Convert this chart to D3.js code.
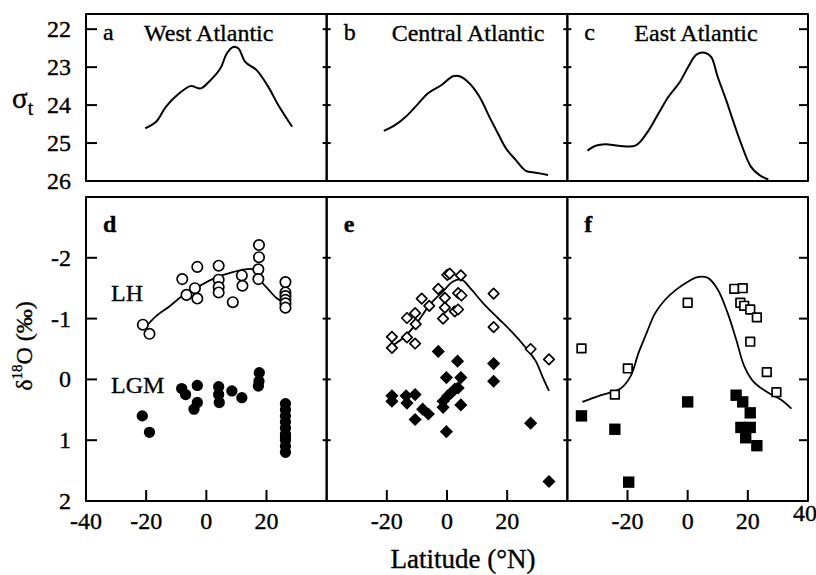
<!DOCTYPE html>
<meta charset="utf-8">
<script src="https://d3js.org/d3.v7.min.js"></script>
<body style="margin:0;background:#fff">
<div id="chart"></div>
</body>
<script>
    // ---- data ----
    var latTicks = [-40, -20, 0, 20, 40]
    var sigmaTicks = [22, 23, 24, 25, 26]
    var d18Ticks = [-2, -1, 0, 1, 2]
    var panelNames = ["West Atlantic", "Central Atlantic", "East Atlantic"]
    var topLetters = ["a", "b", "c"]
    var lowLetters = ["d", "e", "f"]

    // sigma-t sections [lat, sigma]
    var westSigma = [[-20.3, 24.61], [-16.7, 24.44], [-13.4, 24.04], [-9.0, 23.69], [-5.2, 23.5], [-1.9, 23.56],
        [0.8, 23.39], [4.7, 23.03], [6.8, 22.64], [9.0, 22.47], [10.7, 22.51], [12.9, 22.86], [16.7, 23.08],
        [20.6, 23.52], [23.9, 24.0], [28.5, 24.57]]
    var centralSigma = [[-21.0, 24.68], [-17.7, 24.55], [-13.9, 24.32], [-10.0, 24.0], [-6.2, 23.68], [-1.8, 23.47],
        [2.0, 23.24], [4.2, 23.24], [7.5, 23.43], [10.8, 23.78], [14.1, 24.31], [16.9, 24.74], [19.6, 25.14],
        [22.9, 25.45], [26.2, 25.73], [29.5, 25.78], [33.6, 25.84]]
    var eastSigma = [[-33.3, 25.2], [-30.6, 25.07], [-27.3, 25.03], [-22.9, 25.07], [-17.4, 25.07], [-13.6, 24.74],
        [-9.7, 24.22], [-6.4, 23.78], [-2.6, 23.39], [0.2, 22.99], [2.9, 22.67], [5.7, 22.62], [7.8, 22.73],
        [10.0, 23.26], [12.8, 23.87], [15.0, 24.39], [17.7, 25.0], [21.0, 25.62], [23.8, 25.84], [26.8, 25.96]]

    // d18O, late Holocene (open) and LGM (filled) [lat, d18O]
    var westLH = [[-21.1, -0.9], [-18.9, -0.75], [-8.0, -1.65], [-6.6, -1.39], [-3.8, -1.5], [-3.0, -1.33], [-3.0, -1.85],
        [4.1, -1.87], [4.1, -1.64], [4.1, -1.52], [4.1, -1.43], [8.8, -1.27], [11.8, -1.71], [12.0, -1.54],
        [17.5, -2.21], [17.5, -2.01], [17.3, -1.81], [17.3, -1.65],
        [26.3, -1.6], [26.3, -1.43], [26.3, -1.37], [26.3, -1.31], [26.3, -1.25], [26.3, -1.18]]
    var westLGM = [[-21.3, 0.6], [-18.9, 0.87], [-8.2, 0.15], [-6.9, 0.25], [-3.0, 0.1], [-3.0, 0.38], [-4.1, 0.49],
        [4.1, 0.12], [4.1, 0.25], [4.3, 0.38], [8.5, 0.19], [11.8, 0.3], [17.6, -0.11], [17.5, 0.03], [17.3, 0.11],
        [26.3, 0.4], [26.3, 0.5], [26.3, 0.6], [26.3, 0.7], [26.3, 0.8], [26.3, 0.9], [26.3, 0.95], [26.3, 1.0],
        [26.3, 1.1], [26.3, 1.2]]
    var westCurve = [[-20.0, -0.87], [-16.7, -1.04], [-12.3, -1.2], [-8.0, -1.37], [-2.5, -1.53], [3.0, -1.67],
        [8.5, -1.76], [12.9, -1.81], [15.6, -1.81], [17.8, -1.64], [20.6, -1.48], [23.3, -1.34], [26.1, -1.26]]

    var centralLH = [[-18.3, -0.52], [-18.3, -0.7], [-13.3, -0.69], [-10.6, -0.59], [-13.3, -1.01], [-10.6, -1.09],
        [-10.4, -0.91], [-8.4, -1.33], [-5.9, -1.21], [-2.9, -1.49], [-1.3, -1.0], [-0.7, -1.34], [-0.7, -1.18],
        [0.1, -1.72], [0.9, -1.74], [4.6, -1.71], [3.7, -1.42], [4.8, -1.38], [2.6, -1.12], [3.7, -1.15],
        [15.5, -1.41], [15.5, -0.86], [27.8, -0.5], [33.9, -0.33]]
    var centralLGM = [[-18.3, 0.27], [-18.3, 0.36], [-13.6, 0.27], [-13.3, 0.39], [-10.6, 0.25], [-10.6, 0.66],
        [-8.1, 0.49], [-6.2, 0.57], [-2.9, -0.46], [-0.2, -0.03], [-0.2, 0.86], [-1.3, 0.36], [-1.3, 0.46],
        [0.3, 0.27], [1.4, 0.22], [2.6, 0.16], [3.7, 0.14], [3.5, -0.3], [4.6, -0.03], [4.6, 0.42],
        [15.5, -0.26], [15.5, 0.03], [27.8, 0.72], [33.9, 1.68]]
    var centralCurve = [[-18.3, -0.55], [-13.9, -0.71], [-10.0, -0.93], [-5.7, -1.23], [-1.3, -1.45], [2.0, -1.61],
        [4.8, -1.64], [8.1, -1.48], [11.9, -1.26], [16.9, -1.01], [21.8, -0.77], [26.2, -0.52], [29.5, -0.3],
        [31.7, -0.05], [33.9, 0.19]]

    var eastLH = [[-35.3, -0.51], [-24.2, 0.25], [-19.9, -0.18], [0.0, -1.26], [15.5, -1.49], [18.3, -1.5],
        [17.5, -1.26], [18.8, -1.21], [20.8, -1.15], [23.0, -1.02], [20.8, -0.62], [26.3, -0.12], [29.5, 0.21]]
    var eastLGM = [[-35.3, 0.6], [-24.2, 0.82], [-19.6, 1.69], [0.0, 0.37], [16.1, 0.26], [18.3, 0.37], [20.8, 0.55],
        [17.7, 0.79], [20.8, 0.79], [19.3, 0.96], [23.0, 1.09]]
    var eastCurve = [[-35.0, 0.37], [-29.5, 0.27], [-22.3, 0.15], [-19.0, -0.05], [-16.3, -0.44], [-13.6, -0.77],
        [-10.8, -1.09], [-7.5, -1.31], [-3.7, -1.48], [0.2, -1.61], [2.9, -1.68], [6.7, -1.67], [10.0, -1.48],
        [13.3, -1.09], [16.1, -0.66], [18.8, -0.22], [22.1, 0.05], [26.5, 0.21], [30.9, 0.33], [34.5, 0.48]]

    var sigmaSeries = [westSigma, centralSigma, eastSigma]
    var lhSeries = [westLH, centralLH, eastLH]
    var lgmSeries = [westLGM, centralLGM, eastLGM]
    var curveSeries = [westCurve, centralCurve, eastCurve]
    var markerShapes = [d3.symbolCircle, d3.symbolDiamond2, d3.symbolSquare2]

    // ---- layout ----
    var width = 816, height = 575
    var left = 86, right = 808
    var panelW = (right - left) / 3
    var topY0 = 14, topY1 = 181
    var lowY0 = 197, lowY1 = 501
    var fs = 24
    var titleOffset = [58, 65, 67]   // where each panel title starts, from the panel's left edge

    var svg = d3.select("#chart").append("svg")
        .attr("width", width)
        .attr("height", height)
        .attr("font-family", "'Liberation Serif', 'DejaVu Serif', serif")
        .attr("stroke-linejoin", "round")

    var ySigma = d3.scaleLinear().domain([21.6, 26]).range([topY0, topY1])
    var yD18 = d3.scaleLinear().domain([-3, 2]).range([lowY0, lowY1])

    var line = d3.line().curve(d3.curveCatmullRom)

    // text helper: scanned print looks a bit heavier than the font
    function label(sel) {
        return sel.attr("fill", "#000").attr("stroke", "#000").attr("stroke-width", 0.35)
    }

    for (var i = 0; i < 3; i++) {
        var x0 = left + i * panelW
        var x = d3.scaleLinear().domain([-40, 40]).range([x0, x0 + panelW])

        // top panel: sigma-t
        var gt = svg.append("g")
        gt.append("path")
            .attr("d", line.x(function (d) { return x(d[0]) }).y(function (d) { return ySigma(d[1]) })(sigmaSeries[i]))
            .attr("fill", "none").attr("stroke", "#000").attr("stroke-width", 2)
        label(gt.append("text")).attr("x", x0 + 17).attr("y", 40).attr("font-size", fs).text(topLetters[i])
        label(gt.append("text")).attr("x", x0 + titleOffset[i]).attr("y", 41).attr("font-size", fs)
            .text(panelNames[i])

        // lower panel: d18O
        var gl = svg.append("g")
        gl.append("path")
            .attr("d", line.x(function (d) { return x(d[0]) }).y(function (d) { return yD18(d[1]) })(curveSeries[i]))
            .attr("fill", "none").attr("stroke", "#000").attr("stroke-width", 1.8)
        var shape = markerShapes[i]
        var openSize = i == 0 ? 85 : (i == 1 ? 70 : 95)
        var fillSize = i == 0 ? 100 : (i == 1 ? 110 : 165)
        gl.selectAll(".lh").data(lhSeries[i]).enter().append("path")
            .attr("transform", function (d) { return "translate(" + x(d[0]) + "," + yD18(d[1]) + ")" })
            .attr("d", d3.symbol().type(shape).size(openSize))
            .attr("fill", "#fff").attr("stroke", "#000").attr("stroke-width", 1.7)
        gl.selectAll(".lgm").data(lgmSeries[i]).enter().append("path")
            .attr("transform", function (d) { return "translate(" + x(d[0]) + "," + yD18(d[1]) + ")" })
            .attr("d", d3.symbol().type(shape).size(fillSize))
            .attr("fill", "#000")
        label(gl.append("text")).attr("x", x0 + 17).attr("y", 232).attr("font-size", fs)
            .attr("font-weight", "bold").text(lowLetters[i])

        // frames
        svg.append("rect").attr("x", x0).attr("y", topY0).attr("width", panelW).attr("height", topY1 - topY0)
            .attr("fill", "none").attr("stroke", "#000").attr("stroke-width", 2)
        svg.append("rect").attr("x", x0).attr("y", lowY0).attr("width", panelW).attr("height", lowY1 - lowY0)
            .attr("fill", "none").attr("stroke", "#000").attr("stroke-width", 2)

        // y ticks on the left edge of each panel (inward on the first, straddling inside)
        var tl = i == 0 ? 0 : -4, tr = i == 0 ? 11 : 4
        svg.selectAll(null).data(sigmaTicks.slice(0, 4)).enter().append("line")
            .attr("x1", x0 + tl).attr("x2", x0 + tr)
            .attr("y1", function (d) { return ySigma(d) }).attr("y2", function (d) { return ySigma(d) })
            .attr("stroke", "#000").attr("stroke-width", 2)
        svg.selectAll(null).data(d18Ticks.slice(0, 4)).enter().append("line")
            .attr("x1", x0 + tl).attr("x2", x0 + tr)
            .attr("y1", function (d) { return yD18(d) }).attr("y2", function (d) { return yD18(d) })
            .attr("stroke", "#000").attr("stroke-width", 2)

        // x ticks along the bottom
        var xt = latTicks.filter(function (d) { return d > -40 && d < 40 })
        svg.selectAll(null).data(xt).enter().append("line")
            .attr("x1", function (d) { return x(d) }).attr("x2", function (d) { return x(d) })
            .attr("y1", lowY1).attr("y2", lowY1 - 11)
            .attr("stroke", "#000").attr("stroke-width", 2)
        var xl = latTicks.filter(function (d) {
            return (d > -40 && d < 40) || (i == 0 && d == -40) || (i == 2 && d == 40)
        })
        label(svg.selectAll(null).data(xl).enter().append("text"))
            .attr("x", function (d) { return x(d) + (d == 40 ? -3 : 0) })
            .attr("y", function (d) { return d == 40 ? 521 : 529 })
            .attr("text-anchor", "middle").attr("font-size", fs)
            .text(function (d) { return d })
    }

    // right-edge ticks
    svg.selectAll(null).data(sigmaTicks.slice(0, 4)).enter().append("line")
        .attr("x1", right - 9).attr("x2", right)
        .attr("y1", function (d) { return ySigma(d) }).attr("y2", function (d) { return ySigma(d) })
        .attr("stroke", "#000").attr("stroke-width", 2)
    svg.selectAll(null).data(d18Ticks.slice(0, 4)).enter().append("line")
        .attr("x1", right - 9).attr("x2", right)
        .attr("y1", function (d) { return yD18(d) }).attr("y2", function (d) { return yD18(d) })
        .attr("stroke", "#000").attr("stroke-width", 2)

    // y tick labels
    label(svg.selectAll(null).data(sigmaTicks).enter().append("text"))
        .attr("x", 71).attr("y", function (d) { return ySigma(d) + 8 })
        .attr("text-anchor", "end").attr("font-size", fs)
        .text(function (d) { return d })
    label(svg.selectAll(null).data(d18Ticks).enter().append("text"))
        .attr("x", 71).attr("y", function (d) { return yD18(d) + 8 })
        .attr("text-anchor", "end").attr("font-size", fs)
        .text(function (d) { return d })

    // series labels
    label(svg.append("text")).attr("x", 111).attr("y", 301).attr("font-size", fs).text("LH")
    label(svg.append("text")).attr("x", 111).attr("y", 393).attr("font-size", fs).text("LGM")

    // axis titles
    var st = label(svg.append("text")).attr("x", 12).attr("y", 108).attr("font-size", 29)
    st.append("tspan").text("σ")
    st.append("tspan").attr("font-size", 20).attr("dy", 7).text("t")

    var yt = label(svg.append("text"))
        .attr("transform", "translate(32,346) rotate(-90)")
        .attr("text-anchor", "middle").attr("font-size", fs)
    yt.append("tspan").text("δ")
    yt.append("tspan").attr("font-size", 15).attr("dy", -10).text("18")
    yt.append("tspan").attr("dy", 10).text("O (‰)")

    label(svg.append("text")).attr("x", 463).attr("y", 568).attr("text-anchor", "middle")
        .attr("font-size", 27).text("Latitude (°N)")
</script>
